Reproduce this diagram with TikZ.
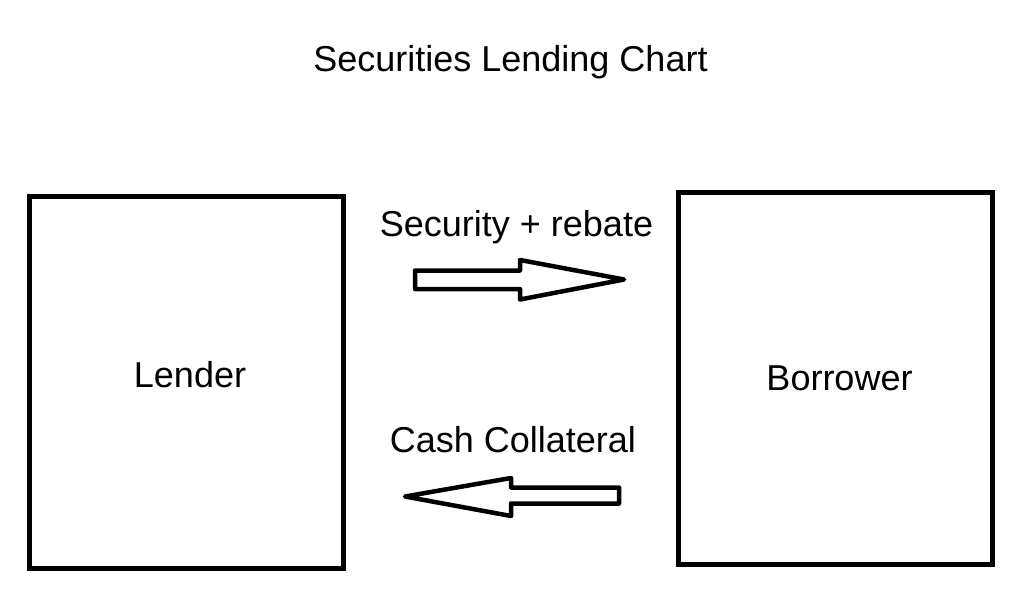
\documentclass[tikz,border=0pt]{standalone}
\usepackage{fontspec}
\setmainfont{Liberation Sans}
\begin{document}
\begin{tikzpicture}[x=1pt,y=-1pt,
  party/.style={draw=black,line width=5pt,minimum width=314pt,minimum height=372pt,inner sep=0pt},
  lbl/.style={anchor=base,font=\fontsize{36}{40}\selectfont,inner sep=0pt},
  blockarrow/.style={draw=black,line width=4.5pt,line join=round,fill=white}]
\useasboundingbox (0,0) rectangle (1020,594);
\node[lbl] (title) at (510.5,71) {Securities Lending Chart};
\node[party] (lender) at (186,382.5) {};
\node[party] (borrower) at (835,378.25) {};
\node[lbl] (lendertext) at (190,387) {Lender};
\node[lbl] (borrowertext) at (839.5,390) {Borrower};
\node[lbl] (top) at (516.5,236) {Security + rebate};
\node[lbl] (bottom) at (513,452) {Cash Collateral};
% right block arrow
\draw[blockarrow] (415,270.5) -- (520,270.5) -- (520,260) -- (624,279.5) -- (520,299.5) -- (520,289) -- (415,289) -- cycle;
% left block arrow
\draw[blockarrow] (619,487.5) -- (511,487.5) -- (511,478) -- (405,496.5) -- (511,516) -- (511,503.5) -- (619,503.5) -- cycle;
\end{tikzpicture}
\end{document}
